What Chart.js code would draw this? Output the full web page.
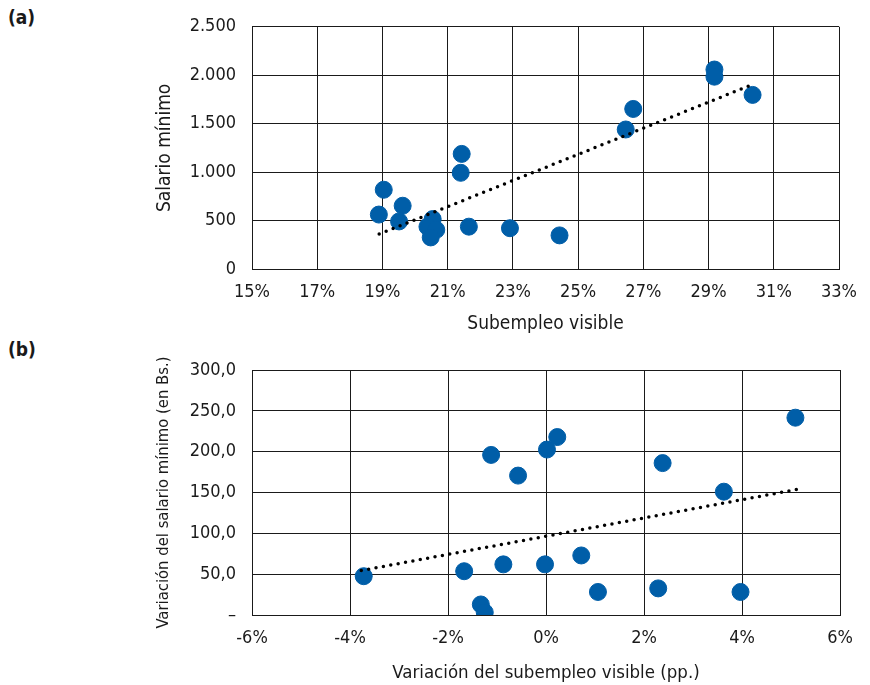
<!DOCTYPE html>
<html>
<head>
<meta charset="utf-8">
<script src="https://cdn.jsdelivr.net/npm/chart.js@4.4.1/dist/chart.umd.min.js"></script>
<style>
  body { margin: 0; background: #fff; }
  .panel { position: absolute; left: 0; width: 870px; }
  .panel--a { top: 0; height: 340px; }
  .panel--b { top: 340px; height: 345px; }
  .tag {
    position: absolute; left: 8px;
    font: bold 19px "DejaVu Sans Condensed", Roboto, sans-serif;
    color: #1a1a1a;
  }
</style>
</head>
<body>
<div class="tag" style="top:6px">(a)</div>
<div class="tag" style="top:338px">(b)</div>
<div class="panel panel--a"><canvas id="chartA"></canvas></div>
<div class="panel panel--b"><canvas id="chartB"></canvas></div>
<script>
// (a) subempleo visible (%) vs salario mínimo
const subempleoA = [19.04, 18.89, 19.62, 19.51, 20.54, 20.38, 20.65, 20.48, 21.43, 21.40, 21.65, 22.91, 24.43, 26.46, 26.69, 29.18, 29.18, 30.35];
const salarioA = [818, 562, 653, 491, 515, 437, 404, 326, 1188, 993, 437, 421, 347, 1440, 1652, 2059, 1985, 1797];
const trendAx = [18.9, 30.35];
const trendAy = [360, 1905];

// (b) variación del subempleo (pp.) vs variación del salario mínimo
const varSubempleoB = [-3.72, -1.67, -1.33, -1.25, -0.87, -1.12, -0.57, -0.02, 0.02, 0.23, 0.72, 1.06, 2.29, 2.38, 3.63, 3.97, 5.09];
const varSalarioB = [47.5, 53.6, 12.9, 3.2, 62, 196, 170.7, 62, 202.6, 217.9, 72.9, 28.2, 32.6, 186, 151, 28.2, 241.6];
const trendBx = [-3.77, 5.24];
const trendBy = [54.4, 155];

const FONT = "'DejaVu Sans Condensed', Roboto, sans-serif";
const INK = "#1a1a1a";
const BLUE = "#005ea8";

const toPoints = (xs, ys) => xs.map((x, i) => ({ x, y: ys[i] }));

const makeChart = (canvas, cfg) => {

  const datasets = [
    {
      type: "line",
      data: toPoints(cfg.trendX, cfg.trendY),
      borderColor: "#000",
      borderWidth: 3.5,
      borderDash: [0, 7.5],
      borderCapStyle: "round",
      pointRadius: 0,
      fill: false,
      order: 0,
    },
    {
      type: "scatter",
      data: toPoints(cfg.xs, cfg.ys),
      backgroundColor: BLUE,
      borderColor: BLUE,
      pointRadius: 8.5,
      pointHoverRadius: 8.5,
      order: 1,
    },
  ];

  return new Chart(canvas, {
    type: "scatter",
    data: { datasets },
    options: {
      responsive: true,
      maintainAspectRatio: false,
      animation: false,
      plugins: { legend: { display: false }, tooltip: { enabled: false } },
      layout: { padding: { left: cfg.padLeft, right: 30, top: cfg.padTop, bottom: 0 } },
      scales: {
        x: {
          min: cfg.xMin,
          max: cfg.xMax,
          ticks: {
            stepSize: 2,
            padding: 13,
            color: INK,
            font: { family: FONT, size: 18 },
            callback: (v) => `${v}%`,
          },
          grid: { color: INK, lineWidth: 1, drawTicks: false },
          border: { color: INK },
          title: {
            display: true,
            text: cfg.xTitle,
            color: INK,
            font: { family: FONT, size: cfg.xTitleSize },
            padding: { top: 0, bottom: cfg.xTitlePad },
          },
          afterFit: (scale) => { scale.height = cfg.xHeight; },
        },
        y: {
          min: cfg.yMin,
          max: cfg.yMax,
          ticks: {
            stepSize: cfg.yStep,
            padding: 16,
            color: INK,
            font: { family: FONT, size: 18 },
            callback: cfg.yFormat,
          },
          grid: { color: INK, lineWidth: 1, drawTicks: false },
          border: { color: INK },
          title: {
            display: true,
            text: cfg.yTitle,
            color: INK,
            font: { family: FONT, size: cfg.yTitleSize },
            padding: { top: cfg.yTitlePad, bottom: 0 },
          },
          afterFit: (scale) => { scale.width = 252 - cfg.padLeft; },
        },
      },
    },
  });

};

makeChart(document.getElementById("chartA"), {
  xs: subempleoA, ys: salarioA, trendX: trendAx, trendY: trendAy,
  xMin: 15, xMax: 33, yMin: 0, yMax: 2500, yStep: 500,
  yFormat: (v) => v.toLocaleString("de-DE"),
  xTitle: "Subempleo visible", yTitle: "Salario mínimo",
  xTitleSize: 19, yTitleSize: 19, yTitlePad: 4,
  padLeft: 150, padTop: 18, xHeight: 71, xTitlePad: 5,
});

makeChart(document.getElementById("chartB"), {
  xs: varSubempleoB, ys: varSalarioB, trendX: trendBx, trendY: trendBy,
  xMin: -6, xMax: 6, yMin: 0, yMax: 300, yStep: 50,
  yFormat: (v) => (v === 0 ? "–" : v.toFixed(1).replace(".", ",")),
  xTitle: "Variación del subempleo visible (pp.)", yTitle: "Variación del salario mínimo (en Bs.)",
  xTitleSize: 18.5, yTitleSize: 16.5, yTitlePad: 4,
  padLeft: 150, padTop: 30, xHeight: 70, xTitlePad: 1,
});
</script>
</body>
</html>
